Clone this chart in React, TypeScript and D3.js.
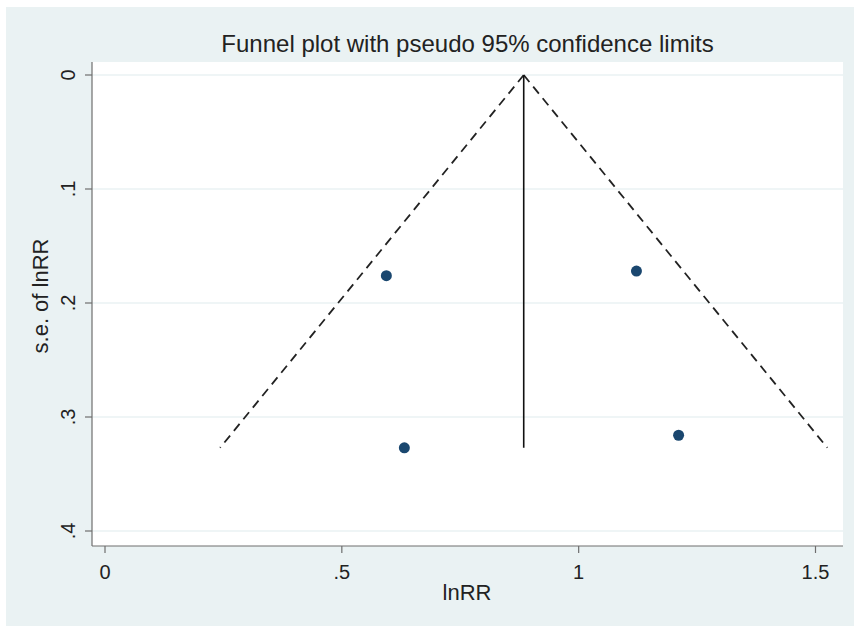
import React from "react";
import * as d3 from "d3";

const studyLnRR = [0.594, 0.632, 1.122, 1.211];
const studySE = [0.176, 0.327, 0.172, 0.316];
const pooled = 0.884;
const xTicks = [0, 0.5, 1, 1.5];
const xTickLabels = ["0", ".5", "1", "1.5"];
const yTicks = [0, 0.1, 0.2, 0.3, 0.4];
const yTickLabels = ["0", ".1", ".2", ".3", ".4"];

const W = 854;
const H = 626;
const plot = { left: 92, right: 843, top: 62, bottom: 546 };
const font = "'Liberation Sans', Arial, sans-serif";

export default function App() {
  const x = d3.scaleLinear().domain([0, 1.5]).range([105, 815.5]);
  const y = d3.scaleLinear().domain([0, 0.4]).range([75, 531]);
  const maxSE = d3.max(studySE) as number;
  const z = 1.96;
  const line = d3
    .line<[number, number]>()
    .x((d) => x(d[0]))
    .y((d) => y(d[1]));
  const leftLimit: [number, number][] = [
    [pooled, 0],
    [pooled - z * maxSE, maxSE],
  ];
  const rightLimit: [number, number][] = [
    [pooled, 0],
    [pooled + z * maxSE, maxSE],
  ];
  const vert: [number, number][] = [
    [pooled, 0],
    [pooled, maxSE],
  ];
  const axisColor = "#6e6e6e";
  const textColor = "#222";
  return (
    <svg
      width={W}
      height={H}
      style={{ position: "absolute", left: 0, top: 0 }}
      fontFamily={font}
    >
      <rect x={0} y={0} width={W} height={H} fill="#ffffff" />
      <rect x={6} y={7} width={W - 6} height={H - 7} fill="#eaf2f3" />
      <rect
        x={plot.left}
        y={plot.top}
        width={plot.right - plot.left}
        height={plot.bottom - plot.top}
        fill="#ffffff"
      />
      {yTicks.map((t) => (
        <line
          key={"g" + t}
          x1={plot.left}
          x2={plot.right}
          y1={y(t)}
          y2={y(t)}
          stroke="#eaf2f3"
          strokeWidth={1.5}
        />
      ))}
      <text
        x={(plot.left + plot.right) / 2}
        y={52}
        textAnchor="middle"
        fontSize={24}
        fill={textColor}
      >
        Funnel plot with pseudo 95% confidence limits
      </text>
      {/* axes */}
      <line x1={plot.left} x2={plot.left} y1={plot.top} y2={plot.bottom} stroke={axisColor} strokeWidth={1.2} />
      <line x1={plot.left} x2={plot.right} y1={plot.bottom} y2={plot.bottom} stroke={axisColor} strokeWidth={1.2} />
      {xTicks.map((t, i) => (
        <g key={"x" + t}>
          <line x1={x(t)} x2={x(t)} y1={plot.bottom} y2={plot.bottom + 7} stroke={axisColor} strokeWidth={1.2} />
          <text x={x(t)} y={579} textAnchor="middle" fontSize={20} fill={textColor}>
            {xTickLabels[i]}
          </text>
        </g>
      ))}
      {yTicks.map((t, i) => (
        <g key={"y" + t}>
          <line x1={plot.left - 7} x2={plot.left} y1={y(t)} y2={y(t)} stroke={axisColor} strokeWidth={1.2} />
          <text
            transform={`translate(${75},${y(t)}) rotate(-90)`}
            textAnchor="middle"
            fontSize={20}
            fill={textColor}
          >
            {yTickLabels[i]}
          </text>
        </g>
      ))}
      <text x={467} y={600} textAnchor="middle" fontSize={22} fill={textColor}>
        lnRR
      </text>
      <text
        transform={`translate(${48},${296}) rotate(-90)`}
        textAnchor="middle"
        fontSize={22}
        fill={textColor}
      >
        s.e. of lnRR
      </text>
      {/* funnel */}
      <path d={line(leftLimit) || ""} fill="none" stroke="#222" strokeWidth={1.8} strokeDasharray="9,6" />
      <path d={line(rightLimit) || ""} fill="none" stroke="#222" strokeWidth={1.8} strokeDasharray="9,6" />
      <path d={line(vert) || ""} fill="none" stroke="#111" strokeWidth={1.6} />
      {studyLnRR.map((v, i) => (
        <circle key={"p" + i} cx={x(v)} cy={y(studySE[i])} r={5.5} fill="#1a476f" />
      ))}
    </svg>
  );
}
